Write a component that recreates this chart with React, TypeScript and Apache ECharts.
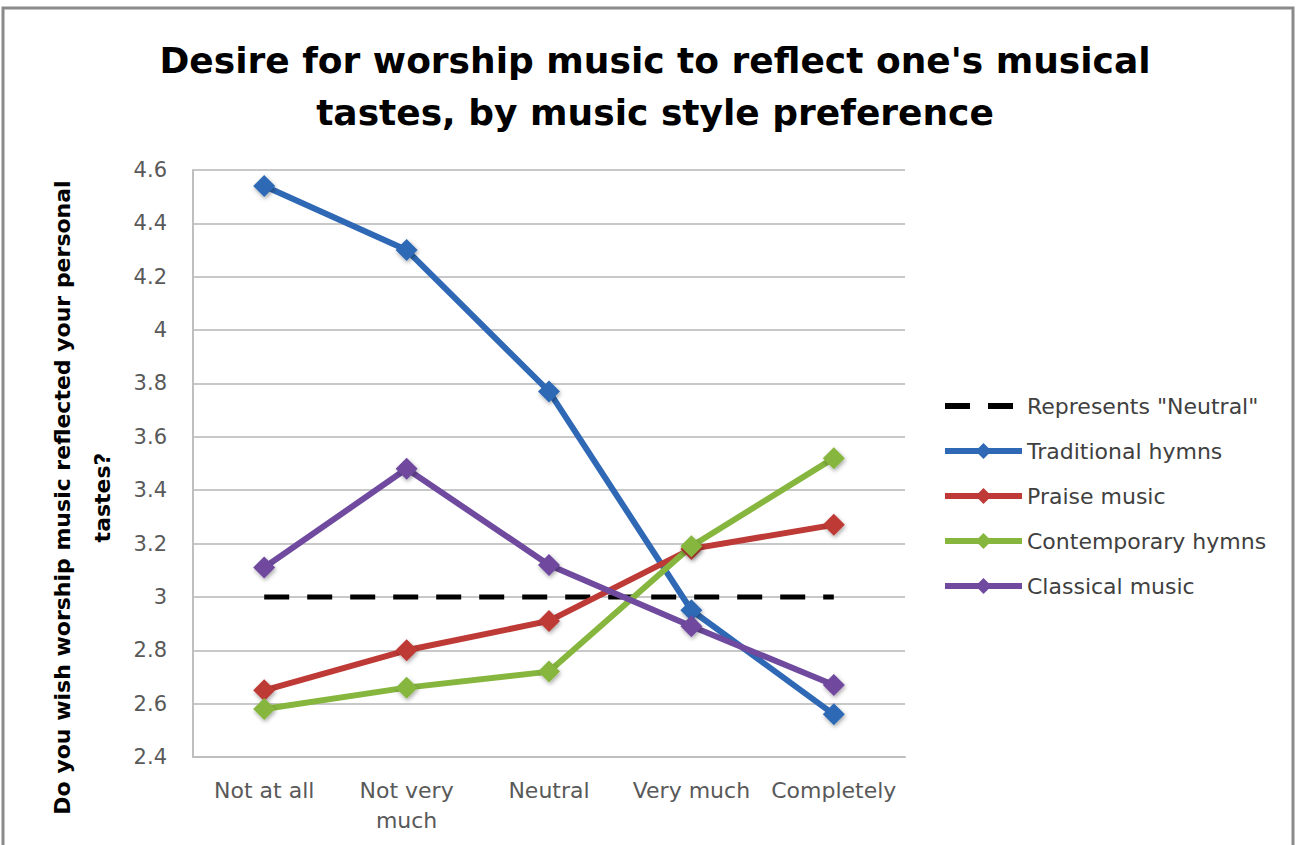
import React, { useEffect, useRef } from "react";
import * as echarts from "echarts";

// Response categories along the x axis
const categories = ["Not at all", "Not very\nmuch", "Neutral", "Very much", "Completely"];

// Mean desire scores per music style preference
const neutralLine = [3, 3, 3, 3, 3];
const traditionalHymns = [4.54, 4.3, 3.77, 2.95, 2.56];
const praiseMusic = [2.65, 2.8, 2.91, 3.18, 3.27];
const contemporaryHymns = [2.58, 2.66, 2.72, 3.19, 3.52];
const classicalMusic = [3.11, 3.48, 3.12, 2.89, 2.67];

const yTicks = { min: 2.4, max: 4.6, interval: 0.2 };

const FONT = "'DejaVu Sans', Verdana, sans-serif";
const NEUTRAL = "Represents \"Neutral\"";

export default function App() {
  const ref = useRef<HTMLDivElement>(null);

  useEffect(() => {
    if (!ref.current) return;
    const chart = echarts.init(ref.current, undefined, { renderer: "svg" });

    const lineSeries = (name: string, data: number[], color: string) => ({
      name,
      type: "line",
      data,
      symbol: "diamond",
      symbolSize: 22,
      lineStyle: { color, width: 6 },
      itemStyle: {
        color,
        shadowColor: "rgba(0,0,0,0.35)",
        shadowBlur: 4,
        shadowOffsetX: 1,
        shadowOffsetY: 2,
      },
      emphasis: { disabled: true },
    });

    chart.setOption({
      animation: false,
      backgroundColor: "#ffffff",
      graphic: [
        {
          type: "rect",
          shape: { x: 3, y: 8, width: 1290, height: 860 },
          style: { fill: "none", stroke: "#8a8a8a", lineWidth: 3 },
          z: -10,
        },
      ],
      title: {
        text: "Desire for worship music to reflect one's musical\ntastes, by music style preference",
        left: 655,
        textAlign: "center",
        top: 34,
        padding: 0,
        textStyle: {
          fontFamily: FONT,
          fontWeight: "bold",
          fontSize: 36,
          lineHeight: 52,
          color: "#000000",
        },
      },
      legend: {
        orient: "vertical",
        left: 942,
        top: 394,
        padding: 0,
        itemWidth: 77,
        itemHeight: 20,
        itemGap: 21,
        lineStyle: { width: 6 },
        textStyle: { fontFamily: FONT, fontSize: 22, lineHeight: 24, color: "#404040" },
        data: [
          { name: NEUTRAL, itemStyle: { opacity: 0 } },
          "Traditional hymns",
          "Praise music",
          "Contemporary hymns",
          "Classical music",
        ],
      },
      grid: { left: 193, right: 392, top: 170, bottom: 88, containLabel: false },
      xAxis: {
        type: "category",
        data: categories,
        boundaryGap: true,
        axisLine: { lineStyle: { color: "#bfbfbf", width: 2 } },
        axisTick: { show: false },
        axisLabel: {
          fontFamily: FONT,
          fontSize: 22,
          color: "#595959",
          margin: 18,
          lineHeight: 30,
          interval: 0,
        },
      },
      yAxis: {
        type: "value",
        min: yTicks.min,
        max: yTicks.max,
        interval: yTicks.interval,
        name: "Do you wish worship music reflected your personal\ntastes?",
        nameLocation: "middle",
        nameRotate: 90,
        nameGap: 26,
        nameTextStyle: {
          fontFamily: FONT,
          fontWeight: "bold",
          fontSize: 22,
          lineHeight: 40,
          color: "#000000",
          align: "center",
          padding: [0, 68, 0, 0],
        },
        axisLine: { show: true, lineStyle: { color: "#bfbfbf", width: 2 } },
        axisTick: { show: false },
        splitLine: { lineStyle: { color: "#c8c8c8", width: 2 } },
        axisLabel: {
          fontFamily: FONT,
          fontSize: 21,
          color: "#595959",
          margin: 26,
          formatter: (v: number) => String(Math.round(v * 10) / 10),
        },
      },
      series: [
        {
          name: NEUTRAL,
          type: "line",
          data: neutralLine,
          symbol: "none",
          lineStyle: { color: "#000000", width: 5, type: [25, 18] },
          itemStyle: { color: "#000000" },
          emphasis: { disabled: true },
          z: 1,
        },
        lineSeries("Traditional hymns", traditionalHymns, "#2f69b5"),
        lineSeries("Praise music", praiseMusic, "#be3a36"),
        lineSeries("Contemporary hymns", contemporaryHymns, "#86b63e"),
        lineSeries("Classical music", classicalMusic, "#6f4a9e"),
      ],
    });

    return () => chart.dispose();
  }, []);

  return (
    <div
      ref={ref}
      style={{ position: "absolute", left: 0, top: 0, width: 1297, height: 845 }}
    />
  );
}
